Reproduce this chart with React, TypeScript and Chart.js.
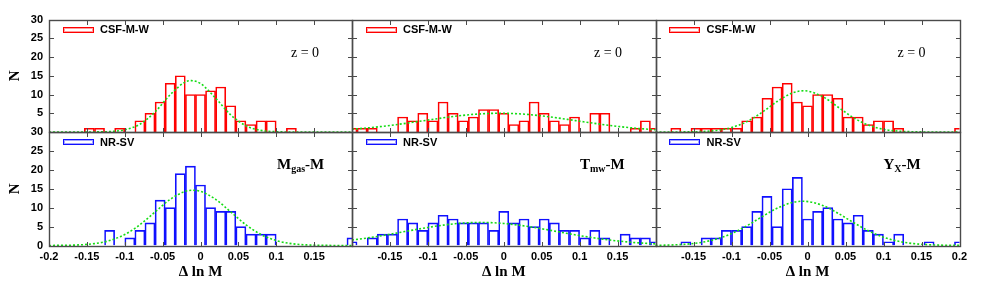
import React, { useEffect, useRef } from 'react';
import { Chart, registerables } from 'chart.js';

Chart.register(...registerables);

// ---------------- data ----------------
const BIN_CENTERS = [
  -0.2, -0.1867, -0.1733, -0.16, -0.1467, -0.1333, -0.12, -0.1067, -0.0933, -0.08, -0.0667,
  -0.0533, -0.04, -0.0267, -0.0133, 0, 0.0133, 0.0267, 0.04, 0.0533, 0.0667, 0.08, 0.0933,
  0.1067, 0.12, 0.1333, 0.1467, 0.16, 0.1733, 0.1867, 0.2,
];

const CSF_MGAS = [0, 0, 0, 0, 1, 1, 0, 1, 0, 3, 5, 8, 13, 15, 10, 10, 11, 12, 7, 3, 2, 3, 3, 0, 1, 0, 0, 0, 0, 0, 0];
const CSF_TMW = [1, 1, 1, 0, 0, 4, 3, 5, 3, 8, 5, 3, 4, 6, 6, 5, 2, 3, 8, 5, 3, 2, 4, 0, 5, 5, 0, 0, 1, 3, 1];
const CSF_YX = [0, 0, 1, 0, 1, 1, 1, 1, 1, 3, 4, 9, 12, 13, 8, 7, 10, 10, 9, 4, 4, 2, 3, 3, 1, 0, 0, 0, 0, 0, 1];
const NR_MGAS = [0, 0, 0, 0, 0, 0, 4, 0, 2, 4, 6, 12, 10, 19, 21, 16, 10, 9, 9, 5, 3, 3, 3, 0, 0, 0, 0, 0, 0, 0, 2];
const NR_TMW = [1, 0, 2, 3, 3, 7, 6, 4, 6, 8, 7, 6, 6, 6, 4, 9, 6, 7, 5, 7, 6, 4, 4, 2, 4, 2, 0, 3, 2, 2, 1];
const NR_YX = [0, 0, 0, 1, 0, 2, 2, 4, 4, 5, 9, 13, 5, 15, 18, 7, 9, 10, 7, 6, 8, 4, 3, 1, 3, 0, 0, 1, 0, 0, 1];

// Gaussian fit curves
const FIT_CSF_MGAS_X = [-0.2, -0.16, -0.14, -0.12, -0.1, -0.08, -0.06, -0.04, -0.02, -0.012, 0, 0.02, 0.04, 0.06, 0.08, 0.1, 0.12, 0.16, 0.2];
const FIT_CSF_MGAS_Y = [0, 0, 0.02, 0.12, 0.58, 2.07, 5.35, 9.95, 13.35, 13.7, 12.92, 9.02, 4.55, 1.65, 0.43, 0.08, 0.01, 0, 0];

const FIT_CSF_TMW_X = [-0.2, -0.18, -0.16, -0.14, -0.12, -0.1, -0.08, -0.06, -0.04, -0.02, -0.005, 0.02, 0.04, 0.06, 0.08, 0.1, 0.12, 0.14, 0.16, 0.18, 0.2];
const FIT_CSF_TMW_Y = [0.75, 1.08, 1.5, 2.01, 2.58, 3.18, 3.77, 4.3, 4.7, 4.94, 5.0, 4.85, 4.52, 4.05, 3.48, 2.88, 2.29, 1.75, 1.28, 0.9, 0.61];

const FIT_CSF_YX_X = [-0.2, -0.16, -0.14, -0.12, -0.1, -0.08, -0.06, -0.04, -0.02, -0.005, 0.02, 0.04, 0.06, 0.08, 0.1, 0.12, 0.14, 0.16, 0.2];
const FIT_CSF_YX_Y = [0, 0.03, 0.12, 0.42, 1.18, 2.74, 5.21, 8.13, 10.4, 11.0, 9.43, 6.67, 3.88, 1.85, 0.72, 0.23, 0.06, 0.01, 0];

const FIT_NR_MGAS_X = [-0.2, -0.18, -0.16, -0.14, -0.12, -0.1, -0.08, -0.06, -0.04, -0.02, -0.01, 0, 0.02, 0.04, 0.06, 0.08, 0.1, 0.12, 0.14, 0.16, 0.18, 0.2];
const FIT_NR_MGAS_Y = [0.01, 0.05, 0.16, 0.5, 1.3, 2.89, 5.48, 8.86, 12.2, 14.31, 14.6, 14.31, 12.2, 8.86, 5.48, 2.89, 1.3, 0.5, 0.16, 0.05, 0.01, 0];

const FIT_NR_TMW_X = [-0.2, -0.18, -0.16, -0.14, -0.12, -0.1, -0.08, -0.06, -0.03, 0, 0.02, 0.04, 0.06, 0.08, 0.1, 0.12, 0.14, 0.16, 0.18, 0.2];
const FIT_NR_TMW_Y = [1.44, 1.98, 2.62, 3.33, 4.07, 4.77, 5.38, 5.83, 6.1, 5.83, 5.38, 4.77, 4.07, 3.33, 2.62, 1.98, 1.44, 1.0, 0.67, 0.43];

const FIT_NR_YX_X = [-0.2, -0.18, -0.16, -0.14, -0.12, -0.1, -0.08, -0.06, -0.04, -0.02, -0.006, 0.02, 0.04, 0.06, 0.08, 0.1, 0.12, 0.14, 0.16, 0.18, 0.2];
const FIT_NR_YX_Y = [0.04, 0.13, 0.34, 0.81, 1.7, 3.14, 5.18, 7.59, 9.85, 11.36, 11.7, 10.58, 8.54, 6.13, 3.9, 2.2, 1.1, 0.49, 0.2, 0.07, 0.02];

const X_MIN = -0.2;
const X_MAX = 0.2;
const X_STEP = 0.05;
const Y_MIN = 0;
const Y_MAX = 30;
const Y_STEP = 5;

const LEGEND_LABELS = ['CSF-M-W', 'NR-SV'];
const REDSHIFT_LABEL = 'z = 0';
const RELATION_MAIN = ['M', 'T', 'Y'];
const RELATION_SUB = ['gas', 'mw', 'X'];
const X_TITLE = 'Δ ln M';
const Y_TITLE = 'N';

// ---------------- layout / style ----------------
const W = 981;
const H = 292;
const COLS = [49, 352, 655.5, 959.5];
const ROWS = [19.5, 132, 245.5];

const DARK = ['#ff0000', '#1010ff'];
const LIGHT = ['#ff9d9d', '#a3a3ff'];
const GREEN = '#14dc14';
const FRAME = '#4a4a4a';

const SANS = "'Liberation Sans', Arial, Helvetica, sans-serif";
const SERIF = "'Liberation Serif', 'Times New Roman', Times, serif";

const fmt = (v: number) => String(Math.round(v * 100) / 100);
const near = (a: number, b: number) => Math.abs(a - b) < 1e-6;

const frameTicks = {
  id: 'frameTicks',
  afterDraw(chart: any) {
    const { ctx, chartArea, scales } = chart;
    const l = Math.round(chartArea.left) + 0.5;
    const r = Math.round(chartArea.right) + 0.5;
    const t = Math.round(chartArea.top) + 0.5;
    const b = Math.round(chartArea.bottom) + 0.5;
    const len = 4.5;
    ctx.save();
    ctx.strokeStyle = FRAME;
    ctx.lineWidth = 1;
    ctx.beginPath();
    scales.x.ticks.forEach((tk: any) => {
      const px = Math.round(scales.x.getPixelForValue(tk.value)) + 0.5;
      ctx.moveTo(px, b);
      ctx.lineTo(px, b - len);
      ctx.moveTo(px, t);
      ctx.lineTo(px, t + len);
    });
    scales.y.ticks.forEach((tk: any) => {
      const py = Math.round(scales.y.getPixelForValue(tk.value)) + 0.5;
      ctx.moveTo(l, py);
      ctx.lineTo(l + len, py);
      ctx.moveTo(r, py);
      ctx.lineTo(r - len, py);
    });
    ctx.stroke();
    ctx.lineWidth = 1.4;
    ctx.strokeRect(l, t, r - l, b - t);
    ctx.restore();
  },
};

type Spec = {
  col: number;
  row: number;
  counts: number[];
  fitX: number[];
  fitY: number[];
};

const SPECS: Spec[] = [
  { col: 0, row: 0, counts: CSF_MGAS, fitX: FIT_CSF_MGAS_X, fitY: FIT_CSF_MGAS_Y },
  { col: 1, row: 0, counts: CSF_TMW, fitX: FIT_CSF_TMW_X, fitY: FIT_CSF_TMW_Y },
  { col: 2, row: 0, counts: CSF_YX, fitX: FIT_CSF_YX_X, fitY: FIT_CSF_YX_Y },
  { col: 0, row: 1, counts: NR_MGAS, fitX: FIT_NR_MGAS_X, fitY: FIT_NR_MGAS_Y },
  { col: 1, row: 1, counts: NR_TMW, fitX: FIT_NR_TMW_X, fitY: FIT_NR_TMW_Y },
  { col: 2, row: 1, counts: NR_YX, fitX: FIT_NR_YX_X, fitY: FIT_NR_YX_Y },
];

function makeConfig(s: Spec): any {
  const L = COLS[s.col];
  const R = COLS[s.col + 1];
  const T = ROWS[s.row];
  const B = ROWS[s.row + 1];
  const showY = s.col === 0;
  const showX = s.row === 1;
  const yW = showY ? L : 0;
  const xH = showX ? H - B : 0;

  const xCallback = (v: number) => {
    if (s.col === 0 && near(v, X_MAX)) return '';
    if (s.col === 1 && (near(v, X_MAX) || near(v, X_MIN))) return '';
    if (s.col === 2 && near(v, X_MIN)) return '';
    return fmt(v);
  };
  const yCallback = (v: number) => (s.row === 0 && v === 0 ? '' : String(v));

  const barData = BIN_CENTERS.map((x, i) => ({ x, y: s.counts[i] }));

  return {
    type: 'bar',
    data: {
      datasets: [
        {
          type: 'line',
          data: s.fitX.map((x, i) => ({ x, y: s.fitY[i] })),
          borderColor: GREEN,
          borderWidth: 1.6,
          borderDash: [2, 2],
          pointRadius: 0,
          fill: false,
          cubicInterpolationMode: 'monotone',
          clip: 1,
        },
        {
          type: 'bar',
          data: barData,
          borderColor: DARK[s.row],
          backgroundColor: 'rgba(255,255,255,0)',
          borderWidth: 1,
          grouped: false,
          categoryPercentage: 1,
          barPercentage: 1,
          clip: 0,
        },
      ],
    },
    options: {
      animation: false,
      responsive: false,
      devicePixelRatio: 1,
      events: [],
      layout: {
        padding: { left: L - yW, right: W - R, top: T, bottom: H - B - xH },
      },
      plugins: { legend: { display: false }, tooltip: { enabled: false } },
      scales: {
        x: {
          type: 'linear',
          min: X_MIN,
          max: X_MAX,
          offset: false,
          grid: { display: false, drawTicks: false, offset: false },
          border: { display: false },
          ticks: {
            display: showX,
            stepSize: X_STEP,
            autoSkip: false,
            maxRotation: 0,
            padding: 5,
            color: '#000',
            font: { family: SANS, size: 11, weight: 'bold' },
            callback: xCallback,
          },
          title: {
            display: showX,
            text: X_TITLE,
            color: '#000',
            font: { family: SERIF, size: 15, weight: 'bold', lineHeight: 1.2 },
            padding: { top: 0, bottom: 10.7 },
          },
          afterFit: (sc: any) => {
            sc.height = xH;
          },
        },
        y: {
          type: 'linear',
          min: Y_MIN,
          max: Y_MAX,
          grid: { display: false, drawTicks: false },
          border: { display: false },
          ticks: {
            display: showY,
            stepSize: Y_STEP,
            padding: 6,
            color: '#000',
            font: { family: SANS, size: 11, weight: 'bold' },
            callback: yCallback,
          },
          title: {
            display: showY,
            text: Y_TITLE,
            color: '#000',
            font: { family: SERIF, size: 15, weight: 'bold', lineHeight: 1.2 },
            padding: { top: 6, bottom: 0 },
          },
          afterFit: (sc: any) => {
            sc.width = yW;
          },
        },
      },
    },
    plugins: [frameTicks],
  };
}

function Panel({ spec }: { spec: Spec }) {
  const ref = useRef<HTMLCanvasElement>(null);
  useEffect(() => {
    if (!ref.current) return;
    const chart = new Chart(ref.current, makeConfig(spec));
    return () => chart.destroy();
  }, [spec]);
  return (
    <canvas
      ref={ref}
      width={W}
      height={H}
      style={{ position: 'absolute', left: 0, top: 0, width: W, height: H }}
    />
  );
}

function Overlays() {
  const items: React.ReactNode[] = [];
  for (let row = 0; row < 2; row++) {
    for (let col = 0; col < 3; col++) {
      const L = COLS[col];
      const T = ROWS[row];
      const key = `${row}-${col}`;
      items.push(
        <div
          key={`box-${key}`}
          style={{
            position: 'absolute',
            left: L + 13.5,
            top: T + 7,
            width: 31,
            height: 6,
            boxSizing: 'border-box',
            border: `1px solid ${DARK[row]}`,
            boxShadow: `inset 0 0 0 1px ${LIGHT[row]}`,
          }}
        />
      );
      items.push(
        <div
          key={`leg-${key}`}
          style={{
            position: 'absolute',
            left: L + 51,
            top: T + 4.8,
            font: `bold 11px ${SANS}`,
            lineHeight: '11px',
            whiteSpace: 'nowrap',
            color: '#000',
          }}
        >
          {LEGEND_LABELS[row]}
        </div>
      );
      if (row === 0) {
        items.push(
          <div
            key={`z-${key}`}
            style={{
              position: 'absolute',
              left: L + 242,
              top: 45.6,
              font: `14px ${SERIF}`,
              lineHeight: '14px',
              whiteSpace: 'pre',
              color: '#000',
            }}
          >
            {REDSHIFT_LABEL}
          </div>
        );
      } else {
        items.push(
          <div
            key={`rel-${key}`}
            style={{
              position: 'absolute',
              left: L + 228,
              top: 156.7,
              font: `bold 15px ${SERIF}`,
              lineHeight: '15px',
              whiteSpace: 'nowrap',
              color: '#000',
            }}
          >
            {RELATION_MAIN[col]}
            <span style={{ fontSize: 10, position: 'relative', top: 3 }}>{RELATION_SUB[col]}</span>
            -M
          </div>
        );
      }
    }
  }
  return <>{items}</>;
}

export default function App() {
  return (
    <div
      style={{
        position: 'absolute',
        left: 0,
        top: 0,
        width: W,
        height: H,
        background: '#fff',
        overflow: 'hidden',
      }}
    >
      {SPECS.map((s, i) => (
        <Panel key={i} spec={s} />
      ))}
      <Overlays />
    </div>
  );
}
